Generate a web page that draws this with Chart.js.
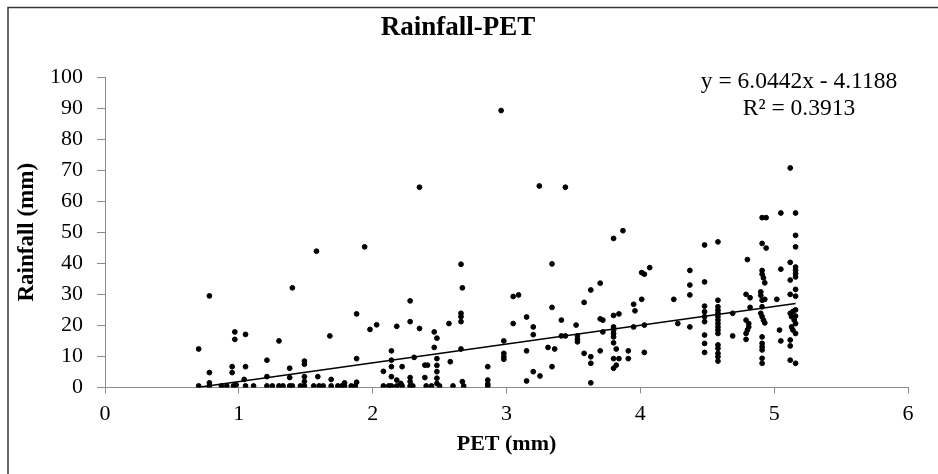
<!DOCTYPE html>
<html>
<head>
<meta charset="utf-8">
<script src="https://cdn.jsdelivr.net/npm/chart.js@4"></script>
<style>
    html, body { margin: 0; padding: 0; background: #fff; }
    #wrap { position: relative; width: 938px; height: 474px; }
</style>
</head>
<body>
<div id="wrap"><canvas id="chart" width="938" height="474"></canvas></div>
<script>
// PET (mm) and Rainfall (mm), point by point
const pet = [
    0.70, 0.70, 0.78, 0.78, 0.78, 0.78, 0.87, 0.91, 0.95, 0.95, 0.97, 0.97, 0.96, 0.98, 1.04, 1.05, 1.05, 1.05, 1.11, 1.21,
    1.21, 1.21, 1.25, 1.30, 1.30, 1.33, 1.38, 1.38, 1.38, 1.40, 1.40, 1.46, 1.49, 1.49, 1.49, 1.49, 1.49,
    1.56, 1.58, 1.59, 1.60, 1.63, 1.68, 1.69, 1.69, 1.74, 1.77, 1.79, 1.79, 1.84, 1.87, 1.88, 1.88, 1.88, 1.94, 1.98, 2.03,
    2.08, 2.08, 2.12, 2.14, 2.14, 2.14, 2.14, 2.14, 2.18, 2.18, 2.18, 2.22, 2.21, 2.22, 2.28, 2.28, 2.28, 2.28, 2.28, 2.30,
    2.31, 2.35, 2.35, 2.39, 2.39, 2.41, 2.40, 2.44, 2.46, 2.46, 2.48, 2.48, 2.48, 2.48, 2.48, 2.48, 2.50, 2.57, 2.58, 2.60,
    2.66, 2.66, 2.66, 2.66, 2.67, 2.66, 2.67, 2.68, 2.86, 2.86, 2.86, 2.86,
    2.96, 2.98, 2.98, 2.98, 2.98, 3.05, 3.09, 3.05, 3.15, 3.15, 3.15, 3.20, 3.20, 3.20, 3.245, 3.25, 3.31, 3.34, 3.34, 3.36,
    3.34, 3.41, 3.41, 3.44, 3.44, 3.52, 3.53, 3.53, 3.53, 3.58, 3.58, 3.63, 3.63, 3.63, 3.63, 3.70, 3.70, 3.72, 3.72, 3.70,
    3.80, 3.87, 3.80, 3.84, 3.80, 3.80, 3.80, 3.80, 3.80, 3.82, 3.80, 3.84, 3.80, 3.82, 3.91, 3.91, 3.95, 3.96, 3.95, 4.01,
    4.03, 4.01, 4.07, 4.03, 4.03, 4.25, 4.28,
    4.37, 4.37, 4.37, 4.37,
    4.48, 4.48, 4.48, 4.48, 4.48, 4.48, 4.48, 4.48, 4.48,
    4.58, 4.58, 4.58, 4.58, 4.58, 4.58, 4.58, 4.58, 4.58, 4.58, 4.58, 4.58, 4.58, 4.58, 4.58, 4.58,
    4.69, 4.69,
    4.80, 4.79, 4.82, 4.82, 4.79, 4.81, 4.81, 4.80, 4.79, 4.79,
    4.91, 4.94, 4.91, 4.94, 4.91, 4.91, 4.92, 4.93, 4.90, 4.90, 4.91, 4.93, 4.91, 4.90, 4.91, 4.92, 4.93, 4.91, 4.91, 4.91,
    4.91, 4.91, 4.91,
    5.02, 5.05, 5.05, 5.04, 5.05,
    5.12, 5.16, 5.16, 5.16, 5.12, 5.16, 5.16, 5.16, 5.16, 5.12, 5.16, 5.12, 5.16, 5.12, 5.13, 5.15, 5.16, 5.13, 5.14, 5.16,
    5.12, 5.12, 5.12, 5.16, 5.16, 5.16, 5.14
];
const rain = [
    0.5, 12.4, 29.5, 4.8, 1.5, 0.5, 0.5, 0.5, 6.7, 4.8, 17.9, 15.5, 0.5, 0.8, 2.6, 17.1, 6.7, 0.5, 0.5, 8.8,
    3.5, 0.5, 0.5, 15.0, 0.5, 0.5, 6.2, 3.2, 0.5, 32.1, 0.5, 0.5, 8.5, 7.5, 3.5, 1.9, 0.5,
    0.5, 43.9, 3.5, 0.5, 0.5, 16.6, 2.6, 0.5, 0.5, 0.5, 1.5, 0.5, 0.5, 0.5, 23.7, 9.3, 1.7, 45.3, 18.7, 20.2,
    5.2, 0.5, 0.5, 11.8, 8.8, 6.7, 3.5, 0.5, 19.7, 2.4, 0.5, 6.7, 1.3, 0.5, 27.9, 21.2, 3.2, 1.9, 0.5, 0.5,
    9.7, 64.5, 19.0, 3.2, 7.2, 7.2, 0.5, 0.5, 17.9, 12.9, 15.9, 9.3, 7.1, 5.1, 3.0, 1.3, 0.5, 20.6, 8.3, 0.5,
    23.9, 22.8, 21.2, 39.7, 32.1, 12.4, 1.9, 0.5, 6.7, 2.4, 1.1, 0.5,
    89.2, 15.0, 11.0, 9.9, 9.1, 29.3, 29.8, 20.6, 22.7, 11.8, 2.1, 19.5, 17.0, 5.1, 64.9, 3.7, 12.9, 39.8, 25.8, 12.4,
    6.7, 21.7, 16.6, 16.6, 64.5, 20.1, 16.6, 15.5, 14.7, 27.4, 11.0, 9.9, 7.8, 31.4, 1.5, 33.6, 22.1, 21.7, 17.9, 11.8,
    48.0, 50.5, 23.2, 23.7, 19.5, 18.5, 17.4, 16.3, 14.4, 12.4, 9.3, 9.3, 6.2, 7.2, 11.8, 9.3, 26.8, 24.7, 19.5, 37.0,
    36.5, 28.4, 38.6, 20.1, 11.3, 28.4, 20.6,
    37.7, 33.0, 29.8, 19.5,
    45.9, 34.0, 26.2, 24.4, 22.8, 21.2, 16.9, 14.2, 11.3,
    46.9, 28.1, 26.0, 24.9, 23.9, 22.8, 21.7, 20.6, 19.5, 18.5, 17.4, 13.7, 12.6, 11.0, 9.9, 8.5,
    23.9, 16.6,
    41.2, 30.0, 28.9, 25.8, 21.7, 20.6, 19.5, 18.5, 17.4, 15.5,
    54.7, 54.7, 46.4, 44.9, 37.7, 36.5, 35.3, 33.7, 30.8, 29.7, 28.1, 28.4, 26.0, 23.9, 22.8, 21.7, 20.8, 16.3, 14.2, 13.1,
    12.1, 9.4, 7.8,
    28.4, 56.2, 38.1, 18.5, 15.0,
    70.7, 56.2, 49.0, 45.3, 40.3, 38.8, 37.8, 36.7, 35.6, 34.6, 31.6, 30.0, 29.4, 23.9, 22.8, 21.7, 20.6, 19.5, 18.5, 17.4,
    15.3, 13.4, 8.8, 7.8, 25.0, 23.0, 24.5
];

// Linear trendline end points, as drawn
const trendX = [0.70, 5.16];
const trendY = [0.11, 27.07];

const xTicks = [0, 1, 2, 3, 4, 5, 6];
const yTicks = [0, 10, 20, 30, 40, 50, 60, 70, 80, 90, 100];

const chartTitle = 'Rainfall-PET';
const equationLines = ['y = 6.0442x - 4.1188', 'R\u00b2 = 0.3913'];

const serif = '"Liberation Serif", "Times New Roman", serif';
const axisGrey = '#8c8c8c';

// Title, trendline label and outer frame
const decorPlugin = {
    id: 'decor',
    afterDraw(chart) {
        const ctx = chart.ctx;
        ctx.save();
        ctx.strokeStyle = '#3a3a3a';
        ctx.lineWidth = 1.5;
        ctx.strokeRect(8, 7.5, 1000, 1000);

        ctx.fillStyle = '#000';
        ctx.textAlign = 'center';
        ctx.textBaseline = 'middle';
        ctx.font = 'bold 27px ' + serif;
        ctx.fillText(chartTitle, 458, 28);

        ctx.font = '23.5px ' + serif;
        ctx.fillText(equationLines[0], 799, 82);
        ctx.fillText(equationLines[1], 799, 109);
        ctx.restore();
    }
};

document.addEventListener('DOMContentLoaded', () => {
    const ctx = document.getElementById('chart').getContext('2d');
    new Chart(ctx, {
        type: 'scatter',
        data: {
            datasets: [
                {
                    label: 'Rainfall',
                    data: pet.map((x, i) => ({ x: x, y: rain[i] })),
                    backgroundColor: '#000',
                    borderColor: '#000',
                    pointRadius: 2.4,
                    pointHoverRadius: 2.4
                },
                {
                    label: 'Linear',
                    type: 'line',
                    data: trendX.map((x, i) => ({ x: x, y: trendY[i] })),
                    borderColor: '#000',
                    borderWidth: 1.5,
                    pointRadius: 0,
                    fill: false
                }
            ]
        },
        options: {
            responsive: false,
            animation: false,
            layout: { padding: { left: 0, top: 77, right: 30, bottom: 0 } },
            plugins: {
                legend: { display: false },
                tooltip: { enabled: false }
            },
            scales: {
                x: {
                    type: 'linear',
                    min: 0,
                    max: 6,
                    afterBuildTicks: scale => { scale.ticks = xTicks.map(v => ({ value: v })); },
                    afterFit: scale => { scale.height = 86.5; },
                    grid: { drawOnChartArea: false, drawTicks: true, tickLength: 6, color: axisGrey },
                    border: { color: axisGrey, width: 1 },
                    ticks: { color: '#000', padding: 8, font: { family: serif, size: 22 } },
                    title: {
                        display: true,
                        text: 'PET (mm)',
                        color: '#000',
                        font: { family: serif, size: 22, weight: 'bold' },
                        padding: { top: 0, bottom: 16 }
                    }
                },
                y: {
                    min: 0,
                    max: 100,
                    afterBuildTicks: scale => { scale.ticks = yTicks.map(v => ({ value: v })); },
                    afterFit: scale => { scale.width = 105; },
                    grid: { drawOnChartArea: false, drawTicks: true, tickLength: 8, color: axisGrey },
                    border: { color: axisGrey, width: 1 },
                    ticks: { color: '#000', padding: 14, font: { family: serif, size: 22 } },
                    title: {
                        display: true,
                        text: 'Rainfall (mm)',
                        color: '#000',
                        font: { family: serif, size: 23, weight: 'bold' },
                        padding: { top: 13, bottom: 0 }
                    }
                }
            }
        },
        plugins: [decorPlugin]
    });
});
</script>
</body>
</html>
